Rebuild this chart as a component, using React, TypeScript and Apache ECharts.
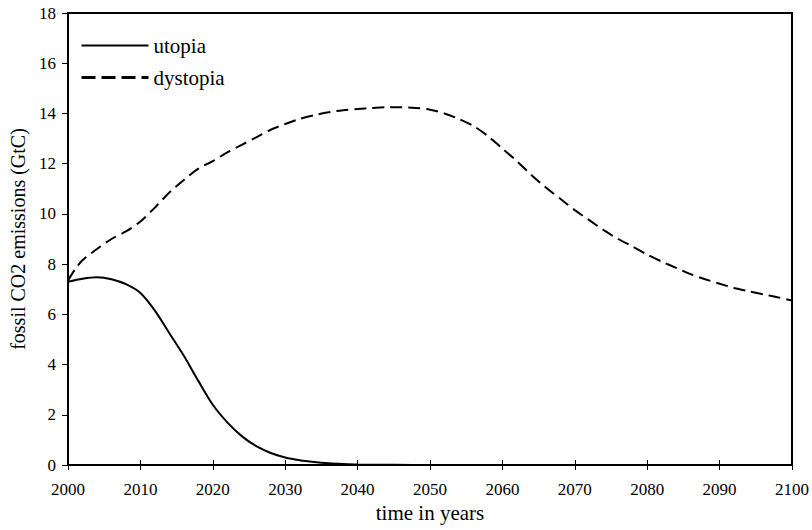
import React, { useEffect, useRef } from "react";
import * as echarts from "echarts";

const utopiaYears = [2000, 2002, 2004, 2006, 2008, 2010, 2012, 2014, 2016, 2018, 2020, 2022, 2024, 2026, 2028, 2030, 2032, 2034, 2036, 2038, 2040, 2045, 2050, 2060, 2070, 2080, 2090, 2100];
const utopiaValues = [7.3, 7.42, 7.48, 7.4, 7.2, 6.85, 6.15, 5.25, 4.35, 3.35, 2.4, 1.7, 1.15, 0.75, 0.48, 0.3, 0.19, 0.12, 0.07, 0.04, 0.02, 0.005, 0, 0, 0, 0, 0, 0];

const dystopiaYears = [2000, 2001, 2002, 2004, 2006, 2008, 2010, 2012, 2014, 2016, 2018, 2020, 2022, 2024, 2026, 2028, 2030, 2032, 2034, 2036, 2038, 2040, 2042, 2044, 2046, 2048, 2050, 2052, 2054, 2056, 2058, 2060, 2062, 2064, 2066, 2068, 2070, 2072, 2074, 2076, 2078, 2080, 2082, 2084, 2086, 2088, 2090, 2092, 2094, 2096, 2098, 2100];
const dystopiaValues = [7.35, 7.8, 8.15, 8.6, 9.0, 9.3, 9.7, 10.25, 10.85, 11.35, 11.8, 12.1, 12.45, 12.75, 13.05, 13.35, 13.58, 13.78, 13.93, 14.05, 14.13, 14.18, 14.22, 14.25, 14.25, 14.22, 14.15, 14.0, 13.78, 13.5, 13.1, 12.6, 12.1, 11.55, 11.05, 10.6, 10.15, 9.75, 9.35, 9.0, 8.7, 8.38, 8.1, 7.85, 7.6, 7.4, 7.22, 7.05, 6.92, 6.8, 6.68, 6.55];

const seriesNames = ["utopia", "dystopia"];
const xAxisTitle = "time in years";
const yAxisTitle = "fossil CO2 emissions (GtC)";

const FONT = "Liberation Serif";

export default function App() {
  const ref = useRef<HTMLDivElement>(null);
  useEffect(() => {
    if (!ref.current) return;
    const chart = echarts.init(ref.current, null, { renderer: "svg" });
    const pair = (xs: number[], ys: number[]) => xs.map((x, i) => [x, ys[i]]);
    const axisLabel = { color: "#000", fontFamily: FONT, fontSize: 17 };
    chart.setOption({
      animation: false,
      textStyle: { fontFamily: FONT, color: "#000" },
      grid: {
        left: 64,
        right: 19,
        top: 13,
        bottom: 65,
        show: true,
        borderColor: "#000",
        borderWidth: 2,
        backgroundColor: "transparent",
      },
      legend: {
        orient: "vertical",
        left: 75,
        top: 30,
        itemWidth: 67,
        itemHeight: 14,
        itemGap: 11,
        itemStyle: { opacity: 0 },
        textStyle: { fontFamily: FONT, fontSize: 21, color: "#000" },
        data: [
          { name: seriesNames[0], lineStyle: { width: 2, type: "solid", color: "#000" } },
          { name: seriesNames[1], lineStyle: { width: 3, type: [14, 6], color: "#000" } },
        ],
      },
      xAxis: [
        {
          type: "value",
          min: 2000,
          max: 2100,
          interval: 10,
          position: "bottom",
          name: xAxisTitle,
          nameLocation: "middle",
          nameGap: 37,
          nameTextStyle: { fontFamily: FONT, fontSize: 21, color: "#000" },
          axisLine: { show: true, lineStyle: { color: "#000", width: 2 } },
          axisTick: { show: true, length: 5, lineStyle: { color: "#000", width: 1 } },
          axisLabel: { ...axisLabel, margin: 16, formatter: (v: number) => String(v) },
          splitLine: { show: false },
        },
        {
          type: "value",
          min: 2000,
          max: 2100,
          interval: 10,
          position: "bottom",
          axisLine: { show: false },
          axisTick: { show: true, inside: true, length: 5, lineStyle: { color: "#000", width: 1 } },
          axisLabel: { show: false },
          splitLine: { show: false },
        },
      ],
      yAxis: {
        type: "value",
        min: 0,
        max: 18,
        interval: 2,
        name: yAxisTitle,
        nameLocation: "middle",
        nameGap: 40,
        nameTextStyle: { fontFamily: FONT, fontSize: 20, color: "#000" },
        axisLine: { show: true, lineStyle: { color: "#000", width: 2 } },
        axisTick: { show: true, length: 6, lineStyle: { color: "#000", width: 1 } },
        axisLabel: { ...axisLabel, margin: 12 },
        splitLine: { show: false },
      },
      series: [
        {
          name: seriesNames[0],
          type: "line",
          data: pair(utopiaYears, utopiaValues),
          symbol: "none",
          smooth: 0.3,
          lineStyle: { color: "#000", width: 2, type: "solid" },
          itemStyle: { color: "#000" },
        },
        {
          name: seriesNames[1],
          type: "line",
          data: pair(dystopiaYears, dystopiaValues),
          symbol: "none",
          smooth: 0.3,
          lineStyle: { color: "#000", width: 2, type: [12, 6] },
          itemStyle: { color: "#000" },
        },
      ],
    });
    return () => chart.dispose();
  }, []);
  return (
    <div
      ref={ref}
      style={{ position: "fixed", left: 0, top: 0, width: 812, height: 530, background: "#fff" }}
    />
  );
}
